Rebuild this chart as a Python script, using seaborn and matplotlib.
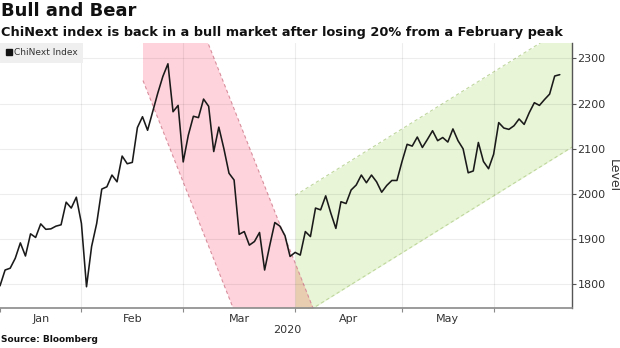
import numpy as np
import pandas as pd
import matplotlib
matplotlib.use("Agg")
import matplotlib.pyplot as plt
from matplotlib.lines import Line2D
import seaborn as sns

# ChiNext Index closing level, one value per trading session (Jan-Jun 2020)
levels = [
    1797, 1832, 1836, 1858, 1892, 1863, 1912, 1904, 1934, 1922,
    1923, 1929, 1932, 1982, 1969, 1993, 1935, 1795, 1884, 1935,
    2011, 2016, 2042, 2027, 2084, 2067, 2070, 2147, 2171, 2141,
    2182, 2223, 2260, 2288, 2182, 2196, 2071, 2130, 2172, 2169,
    2210, 2194, 2094, 2148, 2100, 2046, 2031, 1911, 1917, 1887,
    1895, 1915, 1832, 1886, 1937, 1929, 1908, 1862, 1871, 1865,
    1917, 1906, 1969, 1965, 1996, 1958, 1924, 1983, 1979, 2009,
    2020, 2042, 2025, 2042, 2027, 2004, 2019, 2030, 2030, 2072,
    2110, 2106, 2126, 2103, 2121, 2140, 2118, 2125, 2115, 2144,
    2118, 2100, 2047, 2051, 2114, 2072, 2056, 2088, 2158, 2146,
    2143, 2151, 2166, 2154, 2180, 2202, 2196, 2209, 2221, 2261,
    2264,
]
sessions = list(range(len(levels)))

# session number at which each month begins, and the month names
month_starts = [0, 16, 36, 58, 79, 97]
month_labels = ["Jan", "Feb", "Mar", "Apr", "May"]
year_label = "2020"

y_ticks = [1800, 1900, 2000, 2100, 2200, 2300]

# bear channel (falling) and bull channel (rising)
bear_start, bear_low_anchor, bear_up_anchor, bear_slope = 28.1, (28.1, 2251), (40.9, 2333), -28.4
bull_start, bull_up_anchor, bull_low_anchor, bull_slope = 58.0, (58.0, 1997), (58.0, 1723), 7.0

df = pd.DataFrame({"session": sessions, "level": levels})

sns.set_theme(style="white")
plt.rcParams["font.family"] = ["DejaVu Sans"]

fig = plt.figure(figsize=(6.2, 3.48), dpi=100)
ax = fig.add_axes([0.0, 40 / 348, 572 / 620, 265 / 348])

x_min, x_max = 0, 112.4
y_min, y_max = 1748, 2334
ax.set_xlim(x_min, x_max)
ax.set_ylim(y_min, y_max)


def channel_line(anchor, slope, x):
    return anchor[1] + slope * (x - anchor[0])


pink, pink_edge = "#ffd3dc", "#d88e9c"
green, green_edge = "#e8f5d6", "#bfd79d"
overlap = "#e9cdb1"

xb = np.linspace(bear_start, 80, 400)
bear_low = channel_line(bear_low_anchor, bear_slope, xb)
bear_up = channel_line(bear_up_anchor, bear_slope, xb)
ax.fill_between(xb, bear_low, bear_up, color=pink, lw=0, zorder=0)

xg = np.linspace(bull_start, x_max + 1, 400)
bull_low = channel_line(bull_low_anchor, bull_slope, xg)
bull_up = channel_line(bull_up_anchor, bull_slope, xg)
ax.fill_between(xg, bull_low, bull_up, color=green, lw=0, zorder=0)

# region shared by both channels
ov_low = np.maximum(channel_line(bear_low_anchor, bear_slope, xg), bull_low)
ov_up = np.minimum(channel_line(bear_up_anchor, bear_slope, xg), bull_up)
ax.fill_between(xg, ov_low, ov_up, where=ov_up > ov_low, color=overlap, lw=0, zorder=0.1)

dash = (0, (3, 2.5))
xu = np.linspace(bear_up_anchor[0] - 5, 80, 200)
ax.plot(xb, bear_low, color=pink_edge, lw=0.8, ls=dash, zorder=0.5)
ax.plot(xu, channel_line(bear_up_anchor, bear_slope, xu), color=pink_edge, lw=0.8, ls=dash, zorder=0.5)
ax.plot(xg, bull_low, color=green_edge, lw=0.8, ls=dash, zorder=0.5)
ax.plot(xg, bull_up, color=green_edge, lw=0.8, ls=dash, zorder=0.5)

# grid
for yv in y_ticks:
    ax.axhline(yv, color=(0, 0, 0, 0.07), lw=0.8, zorder=0.6)
for xv in month_starts[1:]:
    ax.axvline(xv, color=(0, 0, 0, 0.07), lw=0.8, zorder=0.6)

sns.lineplot(data=df, x="session", y="level", ax=ax, color="#1a1a1a", lw=1.15, zorder=3, legend=False)

# axes styling
for side in ["top", "left"]:
    ax.spines[side].set_visible(False)
ax.spines["right"].set_color("#555555")
ax.spines["right"].set_linewidth(1.0)
ax.spines["bottom"].set_color("#8a8a8a")
ax.spines["bottom"].set_linewidth(1.2)

ax.yaxis.tick_right()
ax.yaxis.set_label_position("right")
ax.set_yticks(y_ticks)
ax.set_yticklabels([str(v) for v in y_ticks])
ax.tick_params(axis="y", which="major", direction="out", length=3, width=0.8,
               color="#555555", labelsize=8, labelcolor="#333333", pad=1, right=True, left=False)
ax.set_ylabel("Level", rotation=270, fontsize=9, color="#333333", labelpad=10)

ax.set_xticks(month_starts)
ax.set_xticklabels([""] * len(month_starts))
mids = [(a + b) / 2 for a, b in zip(month_starts[:-1], month_starts[1:])]
ax.set_xticks(mids, minor=True)
ax.set_xticklabels(month_labels, minor=True)
ax.tick_params(axis="x", which="major", direction="out", length=3, width=0.8, color="#8a8a8a", bottom=True)
ax.tick_params(axis="x", which="minor", length=0, labelsize=8, labelcolor="#333333", pad=4)
ax.set_xlabel("")

ax.text(56.4, -0.065, year_label, transform=ax.get_xaxis_transform(), ha="center", va="top",
        fontsize=8, color="#333333")

handle = Line2D([], [], marker="s", color="#111111", ls="", markersize=4)
leg = ax.legend([handle], ["ChiNext Index"], loc="upper left", bbox_to_anchor=(0.0, 1.0),
                frameon=True, fancybox=False, borderaxespad=0, fontsize=6.5,
                handletextpad=0.1, handlelength=0.8, borderpad=0.6, labelcolor="#333333")
leg.get_frame().set_facecolor("#efefef")
leg.get_frame().set_edgecolor("none")
leg.get_frame().set_alpha(1)
leg.set_zorder(5)

fig.text(0.002, 0.993, "Bull and Bear", ha="left", va="top", fontsize=13, fontweight="bold", color="#111111")
fig.text(0.002, 0.925, "ChiNext index is back in a bull market after losing 20% from a February peak",
         ha="left", va="top", fontsize=9.3, fontweight="bold", color="#111111")
fig.text(0.002, 0.012, "Source: Bloomberg", ha="left", va="bottom", fontsize=6.5, fontweight="bold", color="#111111")

fig.savefig("out.png", dpi=100)
